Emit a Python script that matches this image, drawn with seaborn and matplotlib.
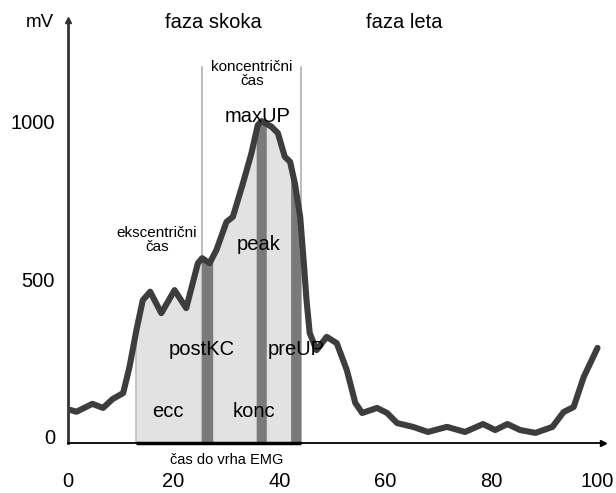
import numpy as np
import pandas as pd
import matplotlib
matplotlib.use("Agg")
import matplotlib.pyplot as plt
import seaborn as sns

# ---- data ----
time = [0, 1.7, 4.7, 6.7, 8.5, 10.5, 11.7, 13, 14.2, 15.6, 17.7, 20.2, 22.4, 24.6,
        25.4, 26.8, 28.1, 30, 31.2, 33.1, 34.7, 35.9, 36.6, 38.5, 39.7, 41, 42,
        42.9, 43.9, 44.5, 45.1, 45.7, 47, 48.9, 50.8, 52.7, 54.3, 55.6, 58.4, 60.3,
        62.2, 65.2, 68, 71.6, 75, 78.4, 80.7, 83, 85.4, 88.3, 91.5, 93.6, 95.5,
        97.4, 100]
emg = [88, 80, 105, 92, 120, 139, 222, 338, 433, 460, 392, 465, 408, 550,
       566, 550, 592, 681, 697, 803, 898, 987, 1000, 982, 962, 887, 871,
       803, 697, 570, 433, 329, 275, 317, 297, 212, 108, 76, 92, 76,
       44, 32, 16, 32, 16, 41, 22, 41, 22, 13, 32, 79, 95,
       190, 282]

ecc_range = (12.9, 44.0)
bands = {"postKC": (25.3, 27.4), "peak": (35.6, 37.5), "preUP": (42.1, 44.0)}
phase_lines = [25.3, 44.1]
x_ticks = [0, 20, 40, 60, 80, 100]
y_ticks = [0, 500, 1000]

df = pd.DataFrame({"time": time, "emg": emg})

sns.set_theme(style="white")
plt.rcParams["font.family"] = ["Liberation Sans", "DejaVu Sans"]

W, H = 616, 493
fig = plt.figure(figsize=(W / 100, H / 100), dpi=100)
x0px, x1px = 67.5, 603
ybot, ytop = 443, 20
ax = fig.add_axes([x0px / W, (H - ybot) / H, (x1px - x0px) / W, (ybot - ytop) / H])
ax.set_xlim(0, (x1px - x0px) / 5.3)
ax.set_ylim(-19, 1320)

# shaded regions under curve
def fill_region(a, b, color, z):
    xs = np.linspace(a, b, 200)
    ys = np.interp(xs, time, emg)
    ax.fill_between(xs, -19, ys, color=color, lw=0, zorder=z)

fill_region(*ecc_range, "#e2e2e2", 1)
for k, (a, b) in bands.items():
    fill_region(a, b, "#7a7a7a", 2)

# boundary lines
ax.plot([ecc_range[0], ecc_range[0]], [-19, np.interp(ecc_range[0], time, emg)],
        color="#bdbdbd", lw=1.2, zorder=1.5)
for xv in phase_lines:
    ax.plot([xv, xv], [-19, 1170], color="#b5b5b5", lw=1.3, zorder=1.5)

sns.lineplot(data=df, x="time", y="emg", ax=ax, color="#3d3d3d", lw=4.4,
             zorder=4, solid_joinstyle="round", solid_capstyle="round")

# thick black segment on axis under shaded area
ax.plot([ecc_range[0], ecc_range[1]], [-19, -19], color="black", lw=2.5,
        zorder=5, clip_on=False, solid_capstyle="butt")

# axes styling
for s in ["top", "right"]:
    ax.spines[s].set_visible(False)
ax.spines["left"].set_color("#333333")
ax.spines["left"].set_linewidth(2.0)
ax.spines["bottom"].set_color("black")
ax.spines["bottom"].set_linewidth(1.3)
ax.plot(0, 1, marker="^", color="#333333", markersize=5, transform=ax.transAxes,
        clip_on=False)
ax.plot(1, 0, marker=">", color="black", markersize=5, transform=ax.transAxes,
        clip_on=False)

ax.set_xticks(x_ticks)
ax.set_xticklabels([str(v) for v in x_ticks])
ax.set_yticks(y_ticks)
ax.set_yticklabels([str(v) for v in y_ticks])
ax.tick_params(axis="x", direction="out", length=4, color="#aaaaaa", width=1,
               pad=17, labelsize=14.5, labelcolor="black")
ax.tick_params(axis="y", direction="out", length=3, color="#aaaaaa", width=1,
               pad=6, labelsize=14.5, labelcolor="black")
ax.set_xlabel("")
ax.set_ylabel("")

# annotations
txt = dict(color="black", ha="center", va="center", zorder=6)
ax.text(-5.2, 1313, "mV", fontsize=13.5, clip_on=False, **txt)
ax.text(27.45, 1313, "faza skoka", fontsize=14.5, **txt)
ax.text(63.5, 1313, "faza leta", fontsize=14.5, **txt)
ax.text(34.8, 1150, "koncentrični\nčas", fontsize=11, linespacing=1.0, **txt)
ax.text(35.9, 1013, "maxUP", fontsize=14.5, **txt)
ax.text(16.9, 623, "ekscentrični\nčas", fontsize=11, linespacing=1.0, **txt)
ax.text(36.1, 608, "peak", fontsize=14.5, **txt)
ax.text(25.4, 278, "postKC", fontsize=14.5, **txt)
ax.text(43.1, 278, "preUP", fontsize=14.5, **txt)
ax.text(18.9, 82, "ecc", fontsize=14.5, **txt)
ax.text(35.1, 82, "konc", fontsize=14.5, **txt)
ax.text(30.1, -73, "čas do vrha EMG", fontsize=10.5, clip_on=False, **txt)

fig.savefig("out.png", dpi=100)
